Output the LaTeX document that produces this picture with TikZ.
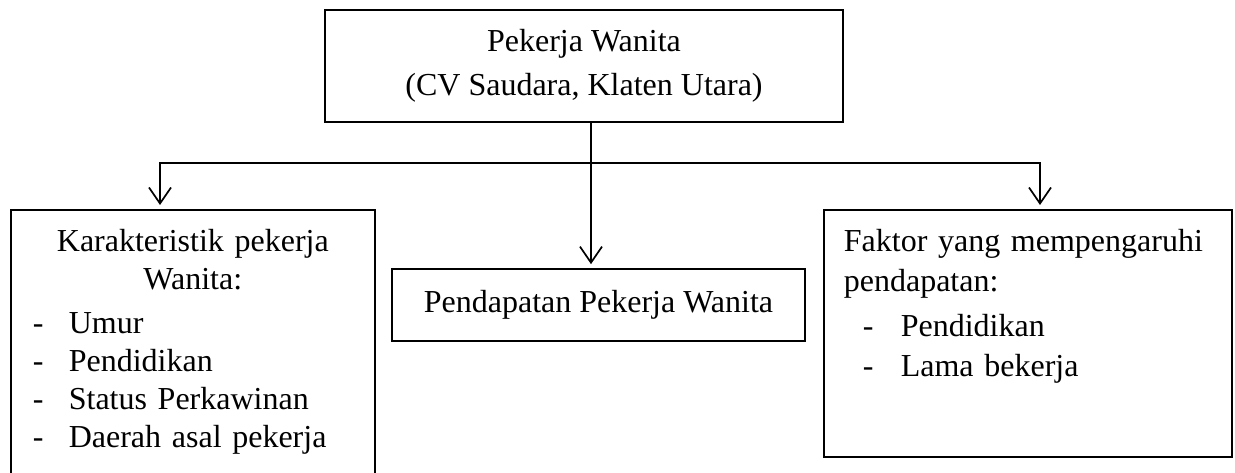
\documentclass[tikz,border=0pt]{standalone}
\usepackage{fontspec}
\setmainfont{Liberation Serif}
\usepackage{tikz}
\usetikzlibrary{arrows.meta,calc,positioning}

\begin{document}
\begin{tikzpicture}[x=1pt,y=-1pt,>={Straight Barb[length=16pt,width=22pt]},
                    line width=1.7pt]
  \tikzstyle{box}=[rectangle,draw=black,fill=white,inner sep=0pt]
  \tikzstyle{txt}=[inner sep=0pt,font=\fontsize{32}{38}\selectfont]
  \tikzstyle{item}=[shorten >=4pt]

  \useasboundingbox (0,0) rectangle (1235,473);

  \node[box,txt,align=center,minimum width=518,minimum height=112] (pekerja) at (584,66)
    {Pekerja Wanita\\[6pt](CV Saudara, Klaten Utara)};
  \node[box,txt,minimum width=413,minimum height=72] (pendapatan) at (598.5,305)
    {Pendapatan Pekerja Wanita};
  \node[box,minimum width=364,minimum height=271,anchor=north west] (karakter) at (10,209) {};
  \node[box,minimum width=408,minimum height=247,anchor=north west] (faktor) at (823,209) {};

  \node[txt,text width=320,anchor=north west] (karaktertxt) at (32,228)
    {\centering Karakteristik pekerja\\Wanita:\par\vspace{6pt}%
     \raggedright\makebox[36pt][l]{-}Umur\\
     \makebox[36pt][l]{-}Pendidikan\\
     \makebox[36pt][l]{-}Status Perkawinan\\
     \makebox[36pt][l]{-}Daerah asal pekerja\par};
  \node[txt,font=\fontsize{32}{40}\selectfont,text width=388,anchor=north west] (faktortxt) at (843,228)
    {\raggedright Faktor yang mempengaruhi\\pendapatan:\\[5pt]
     \hspace*{19pt}\makebox[38pt][l]{-}Pendidikan\\
     \hspace*{19pt}\makebox[38pt][l]{-}Lama bekerja\par};

  % connectors
  \coordinate (hub) at (591,163);
  \coordinate (lt) at (160,163);
  \coordinate (rt) at (1040,163);
  \draw (hub |- pekerja.south) -- (hub);
  \draw[->,item] (hub) -| (lt |- karakter.north);
  \draw[->,item] (hub) -| (rt |- faktor.north);
  \draw[->,item] (hub) -- (hub |- pendapatan.north);
\end{tikzpicture}
\end{document}
